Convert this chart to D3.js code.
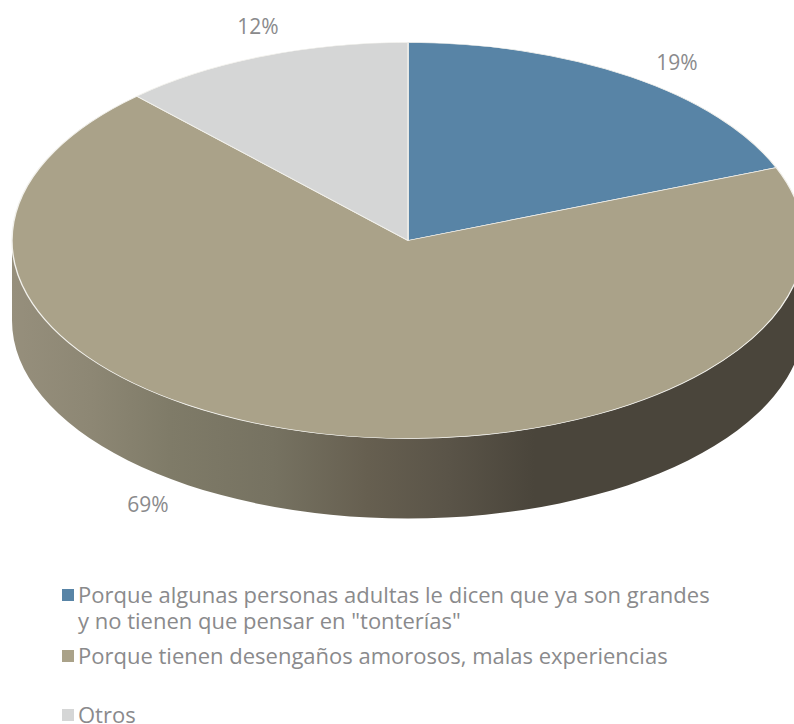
<!DOCTYPE html>
<html><head><meta charset="utf-8">
<script src="https://cdn.jsdelivr.net/npm/d3@7"></script>
<style>html,body{margin:0;padding:0;background:#fff}svg{display:block}text{font-family:"Open Sans",sans-serif}</style>
</head><body><div id="c"></div>
<script>
const categories=['Porque algunas personas adultas le dicen que ya son grandes\ny no tienen que pensar en "tonterías"','Porque tienen desengaños amorosos, malas experiencias','Otros'];
const values=[19,69,12];
const colors=['#5884a6','#aaa289','#d5d6d6'];
const labelPos=[[677,63],[148,505],[258,27]];
const legendY=[595,656,715];
const W=794,H=724,cx=408,cy=240.5,rx=396,ry=198,depth=80;
const svg=d3.select('#c').append('svg').attr('width',W).attr('height',H);
const defs=svg.append('defs');
const gradStops=[[0,'#968f7c'],[0.1,'#8d8774'],[0.2,'#7f7b68'],[0.33,'#767261'],[0.45,'#665f50'],[0.55,'#5a5448'],[0.66,'#4a453b'],[1,'#4a453b']];
const g=defs.append('linearGradient').attr('id','side').attr('gradientUnits','userSpaceOnUse')
 .attr('x1',cx-rx).attr('x2',cx+rx).attr('y1',0).attr('y2',0);
g.selectAll('stop').data(gradStops).join('stop').attr('offset',d=>d[0]).attr('stop-color',d=>d[1]);
// side wall
svg.append('path').attr('fill','url(#side)')
 .attr('d',`M${cx-rx},${cy}L${cx-rx},${cy+depth}A${rx},${ry} 0 0 0 ${cx+rx},${cy+depth}L${cx+rx},${cy}A${rx},${ry} 0 0 1 ${cx-rx},${cy}Z`);
const pie=d3.pie().sort(null).startAngle(0).endAngle(2*Math.PI)(values);
const arc=d3.arc().innerRadius(0).outerRadius(rx);
const topFace=svg.append('g').attr('transform',`translate(${cx},${cy}) scale(1,${ry/rx})`);
topFace.selectAll('path').data(pie).join('path').attr('d',arc).attr('fill',(d,i)=>colors[i])
 .attr('stroke','#f2f1ec').attr('stroke-width',1.4).attr('stroke-linejoin','round');
svg.selectAll('text.l').data(values).join('text').attr('class','l')
 .attr('x',(d,i)=>labelPos[i][0]).attr('y',(d,i)=>labelPos[i][1]+7).attr('text-anchor','middle')
 .attr('font-size',21).attr('fill','#8a8a8c').text(d=>d+'%');
const leg=svg.append('g');
categories.forEach((c,i)=>{
 leg.append('rect').attr('x',62).attr('y',legendY[i]-6).attr('width',12).attr('height',12).attr('fill',colors[i]);
 c.split('\n').forEach((t,j)=>leg.append('text').attr('x',78).attr('y',legendY[i]+8+j*26)
  .attr('font-size',22).attr('fill','#8a8a8c').text(t));
});
</script></body></html>
